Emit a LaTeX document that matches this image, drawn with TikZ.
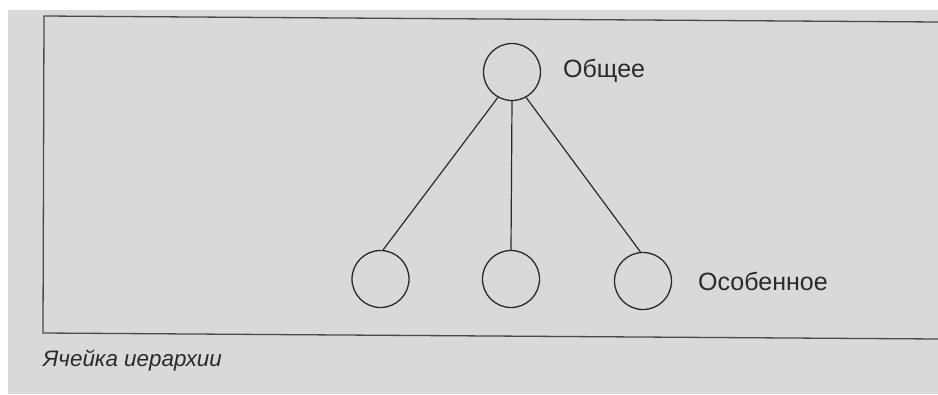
\documentclass[tikz,border=0pt]{standalone}
\usepackage{fontspec}
\setmainfont{Liberation Sans}
\definecolor{bggrey}{HTML}{D9D9D9}
\definecolor{ink}{HTML}{2A2A2A}
\begin{document}
\begin{tikzpicture}[x=1pt,y=-1pt,
  circ/.style={draw=ink,line width=1.3pt,circle,minimum size=57pt,inner sep=0pt},
  link/.style={draw=ink,line width=1.2pt},
  framebox/.style={draw=ink!85,line width=1.3pt},
  lbl/.style={text=ink,font=\fontsize{25}{28}\selectfont,inner sep=0pt,anchor=west},
  captxt/.style={text=ink,font=\fontsize{22.4}{26}\selectfont\itshape,inner sep=0pt,anchor=west}]
\useasboundingbox (0,0) rectangle (938,394);
\fill[white] (0,0) rectangle (938,394);
\fill[bggrey] (8,10) rectangle (938,394);
\draw[framebox] (938,22) -- (44,16) -- (43,333) -- (938,339);
\node[circ] (t) at (512,72) {};
\node[circ] (b1) at (380.5,279) {};
\node[circ] (b2) at (511,279) {};
\node[circ] (b3) at (643,281) {};
\draw[link] (t.241) -- (b1.85);
\draw[link] (t.270) -- (b2.90);
\draw[link] (t.299) -- (b3.95);
\node[lbl] (lt) at (563,71) {Общее};
\node[lbl] (lb) at (698,281) {Особенное};
\node[captxt] (cap) at (43,361) {Ячейка иерархии};
\end{tikzpicture}
\end{document}
